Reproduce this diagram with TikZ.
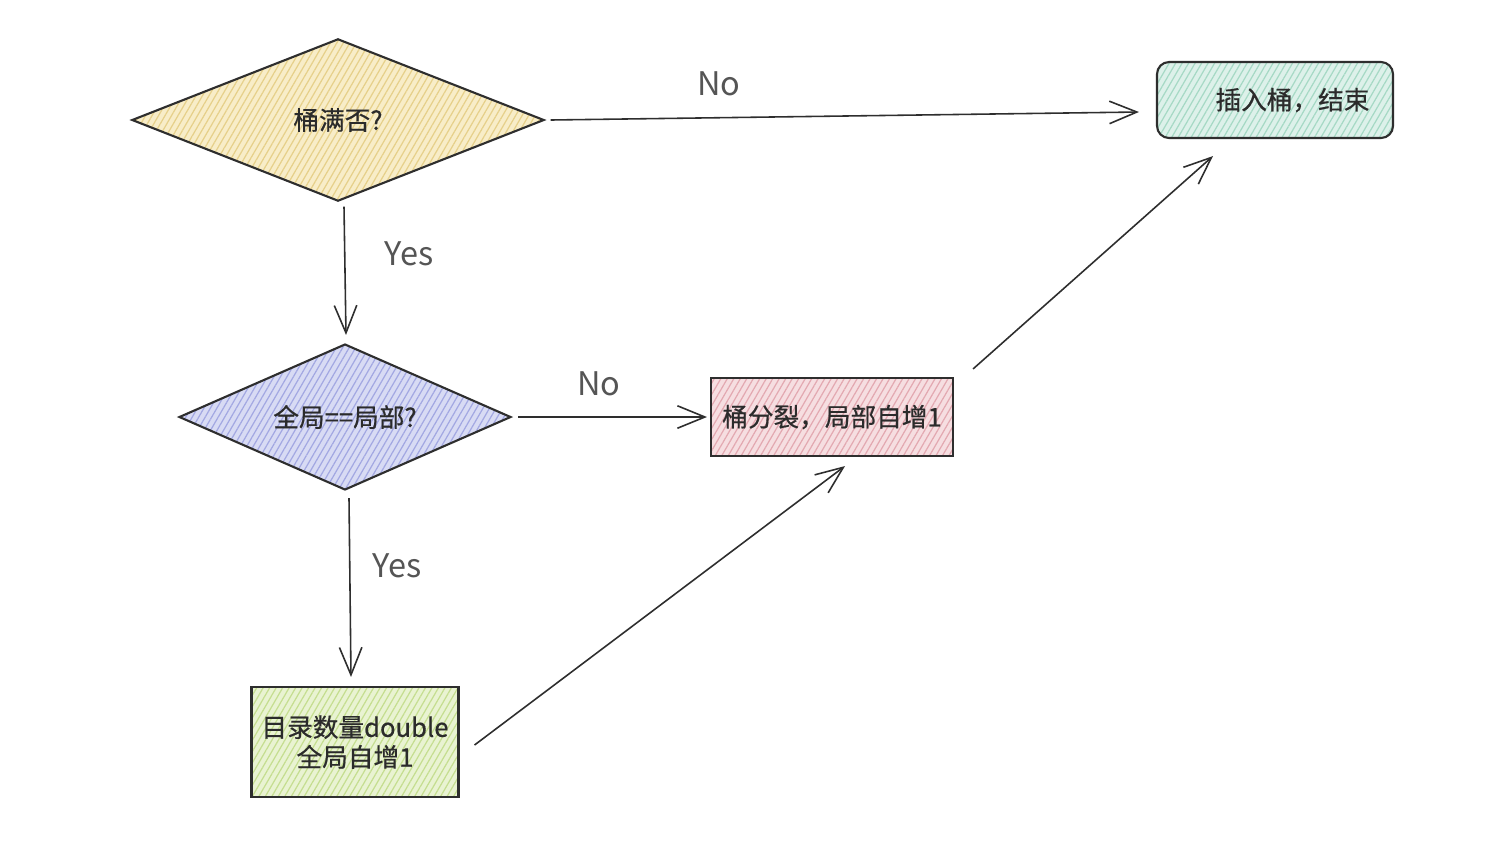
\documentclass[tikz,border=0pt]{standalone}
\usepackage{fontspec}
\setmainfont{Noto Sans CJK SC}
\newfontfamily\boxfont{Noto Sans CJK SC}[FakeBold=0.6]
\usetikzlibrary{shapes.geometric,arrows.meta,patterns.meta}
\definecolor{yelfill}{HTML}{F8EDC8}
\definecolor{yelline}{HTML}{E6D08A}
\definecolor{blufill}{HTML}{D8DBF4}
\definecolor{bluline}{HTML}{A3A8E2}
\definecolor{grnfill}{HTML}{DDF1EA}
\definecolor{grnline}{HTML}{A6D9C5}
\definecolor{pnkfill}{HTML}{F6DEE1}
\definecolor{pnkline}{HTML}{E3A9B1}
\definecolor{limfill}{HTML}{E9F3D2}
\definecolor{limline}{HTML}{C5DE90}
\definecolor{txt}{HTML}{2B2B2B}
\definecolor{lbl}{HTML}{555555}
\definecolor{edge}{HTML}{2E2E2E}
\tikzset{
  hatch/.style 2 args={preaction={fill=#1}, pattern={Lines[angle=60,distance=3.2pt,line width=0.7pt]}, pattern color=#2},
  box/.style={draw=edge, line width=1.2pt, text=txt, font=\boxfont\fontsize{14.6}{17}\selectfont, inner sep=0pt, align=center},
  dia/.style={box, diamond},
  arr/.style={draw=edge, line width=0.9pt, -{Straight Barb[length=0.55cm,width=0.45cm,line width=0.9pt]}},
  yn/.style={text=lbl, font=\fontsize{18.5}{20}\selectfont, inner sep=0pt}
}
\begin{document}
\begin{tikzpicture}[x=0.02cm,y=-0.02cm]
\useasboundingbox[fill=white] (0,0) rectangle (1488,840);
\node[dia, hatch={yelfill}{yelline}, aspect=2.54, minimum width=8.24cm, minimum height=3.24cm] (d1) at (338,120) {桶满否?};
\node[dia, hatch={blufill}{bluline}, aspect=2.27, minimum width=6.64cm, minimum height=2.92cm] (d2) at (345,417) {全局==局部?};
\node[box, rounded corners=0.24cm, hatch={grnfill}{grnline}, minimum width=4.72cm, minimum height=1.52cm] (end) at (1275,100) {\hspace*{0.7cm}插入桶，结束};
\node[box, hatch={pnkfill}{pnkline}, minimum width=4.84cm, minimum height=1.56cm] (split) at (832,417) {桶分裂，局部自增1};
\node[box, hatch={limfill}{limline}, minimum width=4.14cm, minimum height=2.2cm] (dir) at (355,742) {目录数量double\\全局自增1};

\draw[arr] ([shift={(6,0)}]d1.east) -- ([shift={(-17,12)}]end.west);
\draw[arr] ([shift={(6,5)}]d1.south) -- ([shift={(1,-8)}]d2.north);
\draw[arr] ([shift={(6,0)}]d2.east) -- ([shift={(-3,0)}]split.west);
\draw[arr] ([shift={(4,7)}]d2.south) -- ([shift={(-4,-9)}]dir.north);
\draw[arr] ([shift={(15,3)}]dir.east) -- ([shift={(13,9)}]split.south);
\draw[arr] ([shift={(19,-8)}]split.north east) -- ([shift={(-62,17)}]end.south);

\node[yn] (no1) at (719,84) {No};
\node[yn] (yes1) at (409,254) {Yes};
\node[yn] (no2) at (599,384) {No};
\node[yn] (yes2) at (397,566) {Yes};
\end{tikzpicture}
\end{document}
